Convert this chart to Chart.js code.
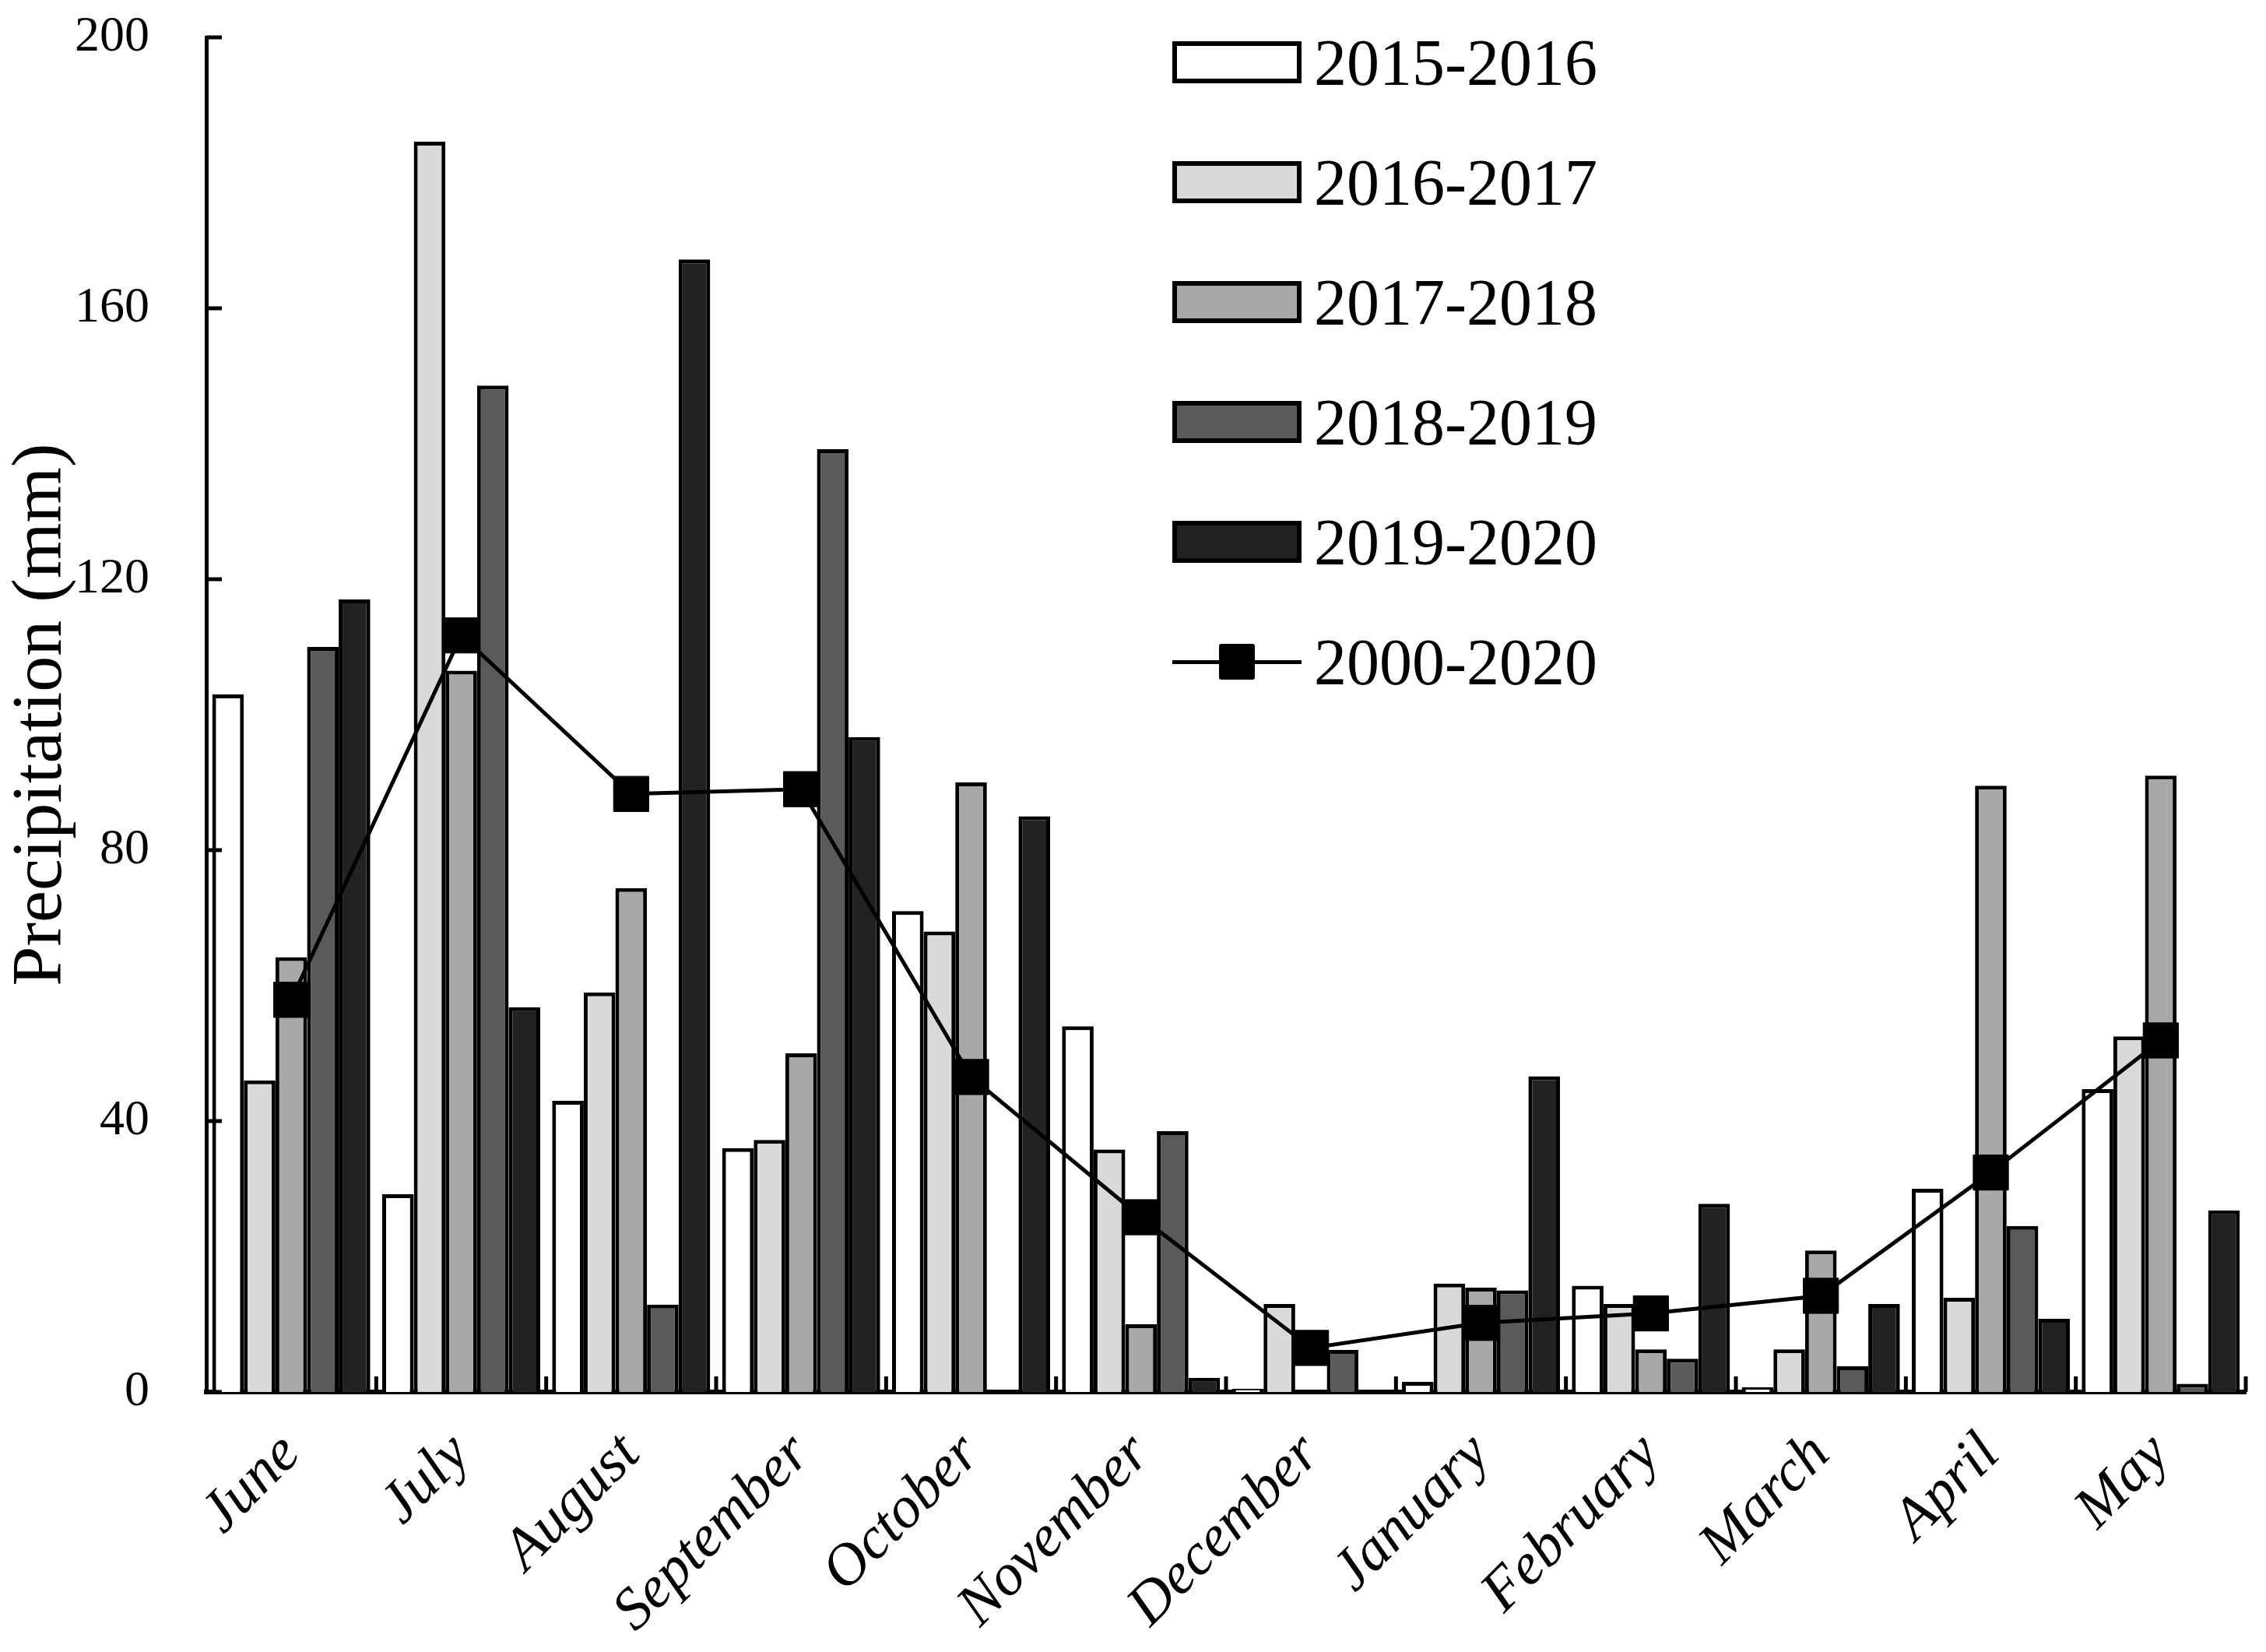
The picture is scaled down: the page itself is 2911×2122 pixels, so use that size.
<!DOCTYPE html>
<html>
<head>
<meta charset="utf-8">
<script src="https://cdn.jsdelivr.net/npm/chart.js@4.4.1/dist/chart.umd.min.js"></script>
<style>
  html, body { margin: 0; padding: 0; background: #fff; }
  #wrap { position: relative; width: 2911px; height: 2122px; }
  #chart { position: absolute; left: 0; top: 0; }
  .leg-row { position: absolute; left: 1506px; height: 60px; display: flex; align-items: center;
             font-family: 'Liberation Serif', serif; font-size: 84px; color: #000; white-space: nowrap; }
  .leg-box { width: 154px; height: 42px; border: 6px solid #000; margin-right: 16px; }
  .leg-line { position: relative; width: 166px; height: 54px; margin-right: 16px; }
  .leg-line::before { content: ''; position: absolute; left: 0; right: 0; top: 25px; height: 5px; background: #000; }
  .leg-line span { position: absolute; left: 60px; top: 4px; width: 46px; height: 46px; background: #000; border-radius: 3px; }
</style>
</head>
<body>
<div id="wrap">
  <canvas id="chart" width="2911" height="2122"></canvas>
  <div id="legend"></div>
</div>
<script>
// ── Data (mm) ──
const months = ['June', 'July', 'August', 'September', 'October', 'November',
                'December', 'January', 'February', 'March', 'April', 'May'];

const seriesNames = ['2015-2016', '2016-2017', '2017-2018', '2018-2019', '2019-2020'];
const avgName = '2000-2020';

const p2015 = [103, 29.2, 43, 36, 71, 54, 0.5, 1.5, 15.7, 0.7, 30, 44.7];
const p2016 = [46, 184.6, 59, 37.2, 68, 35.8, 13, 16, 13, 6.3, 13.9, 52.5];
const p2017 = [64.2, 106.5, 74.4, 50, 90, 10, 0, 15.4, 6.3, 20.9, 89.5, 91];
const p2018 = [110, 148.6, 12.9, 139.2, 0, 38.5, 6.2, 15, 4.9, 3.8, 24.5, 1.2];
const p2019 = [117, 56.8, 167.2, 96.7, 85, 2.1, 0, 46.6, 27.8, 13, 10.8, 26.8];
const pAvg  = [57.9, 111.7, 88.3, 89, 46.5, 25.8, 6.5, 10.2, 11.6, 14.2, 32.4, 51.9];

const yTicks = [0, 40, 80, 120, 160, 200];

// ── Styles ──
const fills = ['#ffffff', '#d9d9d9', '#a8a8a8', '#5a5a5a', '#222222'];
const FONT = "'Liberation Serif', 'Times New Roman', serif";

const barSeries = [p2015, p2016, p2017, p2018, p2019];

// inward tick marks on both axes
const inwardTicks = {
  id: 'inwardTicks',
  afterDatasetsDraw(chart) {
    const { ctx, chartArea, scales } = chart;
    ctx.save();
    ctx.strokeStyle = '#000';
    ctx.lineWidth = 5;
    ctx.beginPath();
    yTicks.forEach(v => {
      const y = scales.y.getPixelForValue(v);
      ctx.moveTo(chartArea.left, y);
      ctx.lineTo(chartArea.left + 20, y);
    });
    for (let i = 1; i <= months.length; i++) {
      const x = scales.x.getPixelForValue(i - 0.5);
      ctx.moveTo(x, chartArea.bottom);
      ctx.lineTo(x, chartArea.bottom - 20);
    }
    ctx.stroke();
    ctx.restore();
  }
};

const datasets = barSeries.map((data, i) => ({
  type: 'bar',
  label: seriesNames[i],
  data,
  backgroundColor: fills[i],
  borderColor: '#000',
  borderWidth: 5,
  borderSkipped: 'start',
  barPercentage: 1.0,
  categoryPercentage: 0.93,
  order: 2
}));

datasets.push({
  type: 'line',
  label: avgName,
  data: pAvg,
  borderColor: '#000',
  borderWidth: 5,
  tension: 0,
  pointStyle: 'rect',
  pointRadius: 32,
  pointBackgroundColor: '#000',
  pointBorderColor: '#000',
  pointBorderWidth: 1,
  order: 1
});

function noPad(scale) {
  scale.paddingTop = 0;
  scale.paddingBottom = 0;
  scale.paddingLeft = 0;
  scale.paddingRight = 0;
}

new Chart(document.getElementById('chart'), {
  type: 'bar',
  data: { labels: months, datasets },
  plugins: [inwardTicks],
  options: {
    responsive: false,
    devicePixelRatio: 1,
    animation: false,
    layout: { autoPadding: false, padding: { top: 48, right: 26, left: 0, bottom: 0 } },
    plugins: { legend: { display: false }, tooltip: { enabled: false } },
    scales: {
      x: {
        offset: true,
        grid: { display: false, drawTicks: false },
        border: { display: true, color: '#000', width: 6 },
        ticks: {
          color: '#000',
          font: { family: FONT, size: 76, style: 'italic' },
          minRotation: 45,
          maxRotation: 45,
          padding: 36
        },
        afterFit: (scale) => { scale.height = 334; noPad(scale); }
      },
      y: {
        min: 0,
        max: 200,
        afterBuildTicks: (scale) => { scale.ticks = yTicks.map(v => ({ value: v })); },
        grid: { display: false, drawTicks: false },
        border: { display: true, color: '#000', width: 5 },
        ticks: {
          color: '#000',
          font: { family: FONT, size: 64 },
          padding: 73
        },
        title: {
          display: true,
          text: 'Precipitation (mm)',
          color: '#000',
          font: { family: FONT, size: 92, lineHeight: 1.0 },
          padding: { top: 8, bottom: 0 }
        },
        afterFit: (scale) => { scale.width = 265; noPad(scale); }
      }
    }
  }
});

// ── Legend ──
const legend = document.getElementById('legend');
const rowTop = 50, rowStep = 154;
seriesNames.forEach((name, i) => {
  legend.insertAdjacentHTML('beforeend', `
    <div class="leg-row" style="top:${rowTop + i * rowStep}px">
      <div class="leg-box" style="background:${fills[i]}"></div>${name}
    </div>`);
});
legend.insertAdjacentHTML('beforeend', `
  <div class="leg-row" style="top:${rowTop + seriesNames.length * rowStep}px">
    <div class="leg-line"><span></span></div>${avgName}
  </div>`);
</script>
</body>
</html>
